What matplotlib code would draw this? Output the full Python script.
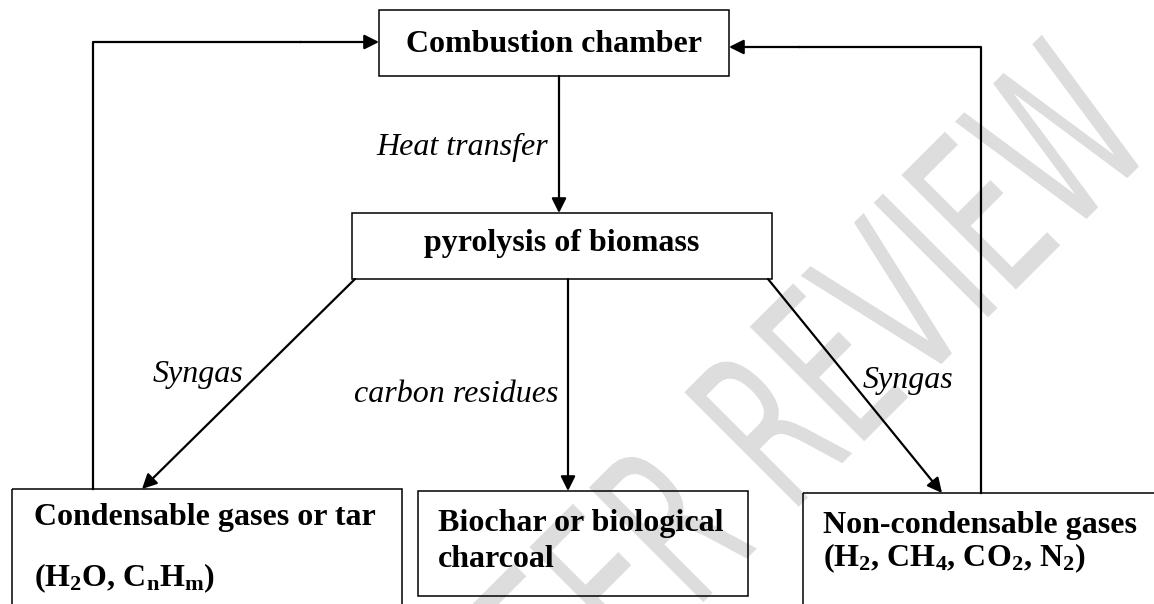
import matplotlib
matplotlib.use("Agg")
from matplotlib import pyplot as plt
from matplotlib.patches import Rectangle, PathPatch
from matplotlib.textpath import TextPath
from matplotlib.font_manager import FontProperties
from matplotlib.transforms import Affine2D

plt.rcParams['mathtext.fontset'] = 'custom'
plt.rcParams['mathtext.rm'] = 'Liberation Serif:bold'
plt.rcParams['mathtext.bf'] = 'Liberation Serif:bold'
plt.rcParams['mathtext.it'] = 'Liberation Serif:italic:bold'

# node texts
node_names = ["combustion", "pyrolysis", "tar", "biochar", "gases"]
node_labels = [
    ["Combustion chamber"],
    ["pyrolysis of biomass"],
    ["Condensable gases or tar", r"($\mathrm{H_2O}$, $\mathrm{C_nH_m}$)"],
    ["Biochar or biological", "charcoal"],
    ["Non-condensable gases",
     r"($\mathrm{H_2}$, $\mathrm{CH_4}$, $\mathrm{CO_2}$, $\mathrm{N_2}$)"],
]
# flow labels
flow_labels = ["Heat transfer", "Syngas", "carbon residues", "Syngas"]
watermark = "FOR PEER REVIEW"

# layout in pixel space (x0, y0, x1, y1)
boxes = {
    "combustion": (379, 10, 729, 76),
    "pyrolysis": (352, 213, 772, 279),
    "tar": (12, 489, 402, 620),
    "biochar": (418, 491, 748, 596),
    "gases": (803, 493, 1170, 620),
}
text_pos = {
    "combustion": [(554, 52, 'center')],
    "pyrolysis": [(562, 251, 'center')],
    "tar": [(34, 525, 'left'), (34, 586, 'left')],
    "biochar": [(438, 531, 'left'), (438, 567, 'left')],
    "gases": [(823, 533, 'left'), (823, 566, 'left')],
}

fig = plt.figure(figsize=(11.54, 6.04), dpi=100)
ax = fig.add_axes([0, 0, 1, 1])
ax.set_xlim(0, 1154)
ax.set_ylim(604, 0)
ax.axis('off')

# watermark, condensed and turned 45 deg
wm_size = 222
tp = TextPath((0, 0), watermark, size=wm_size, prop=FontProperties(family='DejaVu Sans'))
ext = tp.get_extents()
tr = (Affine2D().translate(-ext.x1, -0.729 * wm_size / 2)
      .scale(0.6, -1.0).rotate_deg(-45).translate(1099, 92))
ax.add_patch(PathPatch(tr.transform_path(tp), fc='#dddddd', ec='none', zorder=0))

for name, lab in zip(node_names, node_labels):
    x0, y0, x1, y1 = boxes[name]
    ax.add_patch(Rectangle((x0, y0), x1 - x0, y1 - y0, fill=False,
                           ec='black', lw=1.1, zorder=2))
    for (tx, ty, ha), s in zip(text_pos[name], lab):
        ax.text(tx, ty, s, ha=ha, va='baseline', fontsize=23,
                family='Liberation Serif', weight='bold', zorder=3)

arrow = dict(arrowstyle='-|>', color='black', lw=1.6, mutation_scale=22,
             shrinkA=0, shrinkB=0)

def link(p0, p1):
    ax.annotate("", xy=p1, xytext=p0, arrowprops=arrow, zorder=3)

# heat transfer
link((559, 76), (559, 213))
# products
link((355, 279), (142, 489))
link((568, 279), (568, 491))
link((768, 279), (942, 493))
# recycle lines back to the combustion chamber
ax.plot([93, 93, 300], [489, 42, 42], color='black', lw=1.6, zorder=3)
link((300, 42), (379, 42))
ax.plot([981, 981, 800], [493, 47, 47], color='black', lw=1.6, zorder=3)
link((800, 47), (729, 47))

flow_pos = [(462, 155), (198, 382), (456, 402), (908, 388)]
for (fx, fy), s in zip(flow_pos, flow_labels):
    ax.text(fx, fy, s, ha='center', va='baseline', fontsize=23,
            family='Liberation Serif', style='italic', zorder=3)

fig.savefig("out.png", dpi=100)
